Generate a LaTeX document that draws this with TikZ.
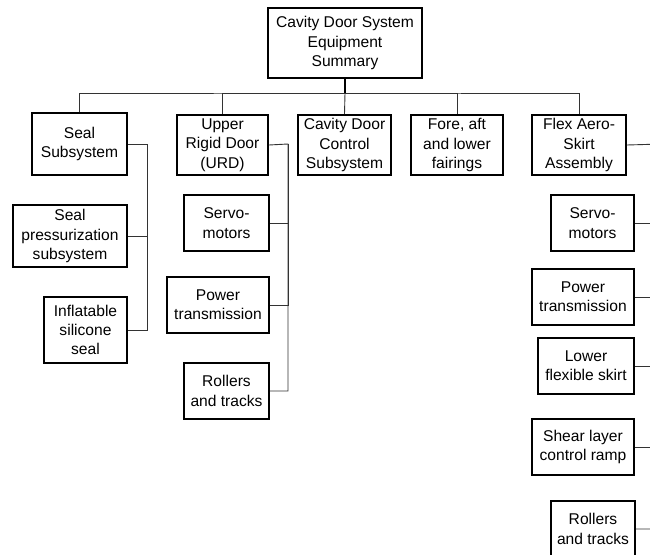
\documentclass[tikz,border=0pt]{standalone}
\usepackage{fontspec}
\setmainfont{Liberation Sans}
\usepackage{tikz}

\begin{document}
\begin{tikzpicture}[x=1pt, y=-1pt,
  box/.style={draw, line width=1.8pt, align=center, inner sep=0pt,
    font=\fontsize{15.6}{19.3}\selectfont},
  link/.style={line width=0.9pt, black!80}]
  \clip (0,0) rectangle (650,554);
  % root
  \node[box, minimum width=154pt, minimum height=70pt] (top) at (345,43) {Cavity Door System\\Equipment\\Summary};
  % first level
  \node[box, minimum width=95pt, minimum height=62pt] (seal) at (79.5,144) {Seal\\Subsystem};
  \node[box, minimum width=91pt, minimum height=60pt] (urd) at (222.5,145) {Upper\\Rigid Door\\(URD)};
  \node[box, minimum width=93pt, minimum height=60pt] (cdc) at (344.5,145) {Cavity Door\\Control\\Subsystem};
  \node[box, minimum width=92pt, minimum height=60pt] (fore) at (457,145) {Fore, aft\\and lower\\fairings};
  \node[box, minimum width=94pt, minimum height=60pt] (flex) at (579,145) {Flex Aero-\\Skirt\\Assembly};
  % seal parts
  \node[box, minimum width=114pt, minimum height=62pt] (sealpress) at (70,236) {Seal\\pressurization\\subsystem};
  \node[box, minimum width=83pt, minimum height=66pt] (inflate) at (85.5,330) {Inflatable\\silicone\\seal};
  % urd parts
  \node[box, minimum width=85pt, minimum height=56pt] (urdservo) at (226.5,223) {Servo-\\motors};
  \node[box, minimum width=102pt, minimum height=56pt] (urdpower) at (218,305) {Power\\transmission};
  \node[box, minimum width=85pt, minimum height=56pt] (urdroll) at (226.5,391) {Rollers\\and tracks};
  % flex parts
  \node[box, minimum width=83pt, minimum height=56pt] (flexservo) at (592.5,223) {Servo-\\motors};
  \node[box, minimum width=102pt, minimum height=56pt] (flexpower) at (583,297) {Power\\transmission};
  \node[box, minimum width=96pt, minimum height=56pt] (skirt) at (586,366) {Lower\\flexible skirt};
  \node[box, minimum width=102pt, minimum height=56pt] (shear) at (583,447) {Shear layer\\control ramp};
  \node[box, minimum width=84pt, minimum height=56pt] (flexroll) at (593,529) {Rollers\\and tracks};

  \coordinate (bus) at (345,93);
  \coordinate (sealbus) at (147,144);
  \coordinate (urdbus) at (288,144);
  \coordinate (flexbus) at (662,144);

  \draw[line width=1.6pt] (top.south) -- (bus);
  \draw[link] (bus) -- (cdc.north);
  \draw[link] (seal.north) |- (bus) -| (flex.north);
  \draw[link] (urd.north) |- (bus);
  \draw[link] (fore.north) |- (bus);

  \draw[link] (seal.east) -- (sealbus) |- (inflate.east);
  \draw[link] (sealpress.east) -| (sealbus);

  \draw[link] (urd.east) -- (urdbus) |- (urdroll.east);
  \draw[link] (urdservo.east) -| (urdbus);
  \draw[link] (urdpower.east) -| (urdbus);

  \draw[link] (flex.east) -- (flexbus) |- (flexroll.east);
  \foreach \n in {flexservo,flexpower,skirt,shear}
    \draw[link] (\n.east) -| (flexbus);
\end{tikzpicture}
\end{document}
